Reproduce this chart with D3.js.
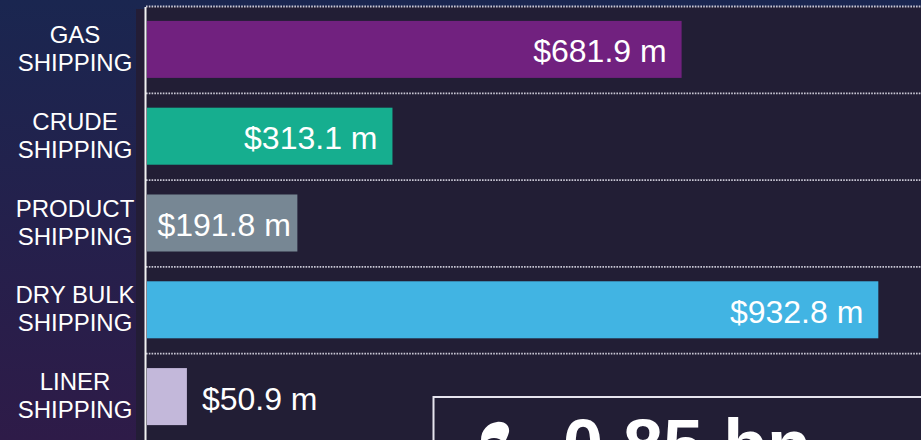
<!DOCTYPE html>
<html>
<head>
<meta charset="utf-8">
<script src="https://cdn.jsdelivr.net/npm/d3@7"></script>
<style>
html,body{margin:0;padding:0;background:#221e35;overflow:hidden;}
svg{display:block;font-family:"Liberation Sans",Arial,sans-serif;}
</style>
</head>
<body>
<svg id="chart" width="921" height="440"></svg>
<script>
const categories = [["GAS","SHIPPING"],["CRUDE","SHIPPING"],["PRODUCT","SHIPPING"],["DRY BULK","SHIPPING"],["LINER","SHIPPING"]];
const values = [681.9, 313.1, 191.8, 932.8, 50.9];
const colors = ["#71217f", "#16ae8f", "#778794", "#41b4e3", "#c3b8da"];
const totalLabel = "0.85 bn";

const W = 921, H = 440;
const svg = d3.select("#chart");
const defs = svg.append("defs");
const g1 = defs.append("linearGradient").attr("id","bg").attr("x1",0).attr("y1",0).attr("x2",0).attr("y2",1);
g1.append("stop").attr("offset","0%").attr("stop-color","#1a2650");
g1.append("stop").attr("offset","100%").attr("stop-color","#2e1b48");

svg.append("rect").attr("width",W).attr("height",H).attr("fill","url(#bg)");
// dark strip next to axis
svg.append("rect").attr("x",136).attr("y",9).attr("width",10).attr("height",H-9).attr("fill","#231d36");
// plot background
svg.append("rect").attr("x",146).attr("y",6.5).attr("width",W-146).attr("height",H-6.5).attr("fill","#221e35");

const x = d3.scaleLinear().domain([0, 1000]).range([147, 931]);
const y = d3.scaleBand().domain(d3.range(values.length)).range([6, 440]).paddingInner(0.343).paddingOuter(0.1715);
const step = y.step();

// gridlines
svg.append("g").selectAll("line").data(d3.range(values.length)).join("line")
  .attr("x1",146).attr("x2",W)
  .attr("y1",d => y(d) - y.paddingInner()*step/2 + 0.5)
  .attr("y2",d => y(d) - y.paddingInner()*step/2 + 0.5)
  .attr("stroke","#c9c7d4").attr("stroke-width",1.8).attr("stroke-dasharray","1.6,1.2");

// bars
svg.append("g").selectAll("rect").data(values).join("rect")
  .attr("x", x(0))
  .attr("y", (d,i) => y(i))
  .attr("width", d => x(d) - x(0))
  .attr("height", y.bandwidth())
  .attr("fill", (d,i) => colors[i]);

// axis line
svg.append("line").attr("x1",145.5).attr("x2",145.5).attr("y1",7).attr("y2",H)
  .attr("stroke","#f2f2f2").attr("stroke-width",2);

// value labels
const pad = 15;
svg.append("g").selectAll("text").data(values).join("text")
  .attr("fill","#ffffff").attr("font-size",32)
  .attr("y",(d,i) => y(i) + y.bandwidth()/2 + 13)
  .text(d => "$" + d3.format(".1f")(d) + " m")
  .each(function(d){
    const t = d3.select(this);
    const w = this.getComputedTextLength();
    const bw = x(d) - x(0);
    if (bw >= w + 2*pad) {
      t.attr("x", x(d) - pad).attr("text-anchor","end");
    } else if (bw >= w + 10) {
      t.attr("x", (x(d)+x(0))/2 + 2).attr("text-anchor","middle");
    } else {
      t.attr("x", x(d) + pad).attr("text-anchor","start");
    }
  });

// category labels
const cl = svg.append("g").selectAll("text").data(categories).join("text")
  .attr("fill","#ffffff").attr("font-size",24).attr("text-anchor","middle")
  .attr("y",(d,i) => y(i) + y.bandwidth()/2 - 6.5);
cl.selectAll("tspan").data(d => d).join("tspan")
  .attr("x",75).attr("dy",(d,j) => j === 0 ? 0 : 28)
  .text(d => d);

// total box
svg.append("rect").attr("x",433.5).attr("y",397).attr("width",520).attr("height",100)
  .attr("fill","none").attr("stroke","#e6e4ee").attr("stroke-width",2);
// icon (money bag top)
svg.append("path")
  .attr("d","M481,440 C481,430 488,423 497,422 C505,421 510,426 509,432 C508,436 506,440 506,440 Z")
  .attr("fill","#ffffff");
svg.append("ellipse").attr("cx",494).attr("cy",441).attr("rx",7).attr("ry",3).attr("fill","#221e35");
svg.append("text").attr("x",563).attr("y",470).attr("fill","#ffffff")
  .attr("font-size",72).attr("font-weight","bold").text(totalLabel);
</script>
</body>
</html>
